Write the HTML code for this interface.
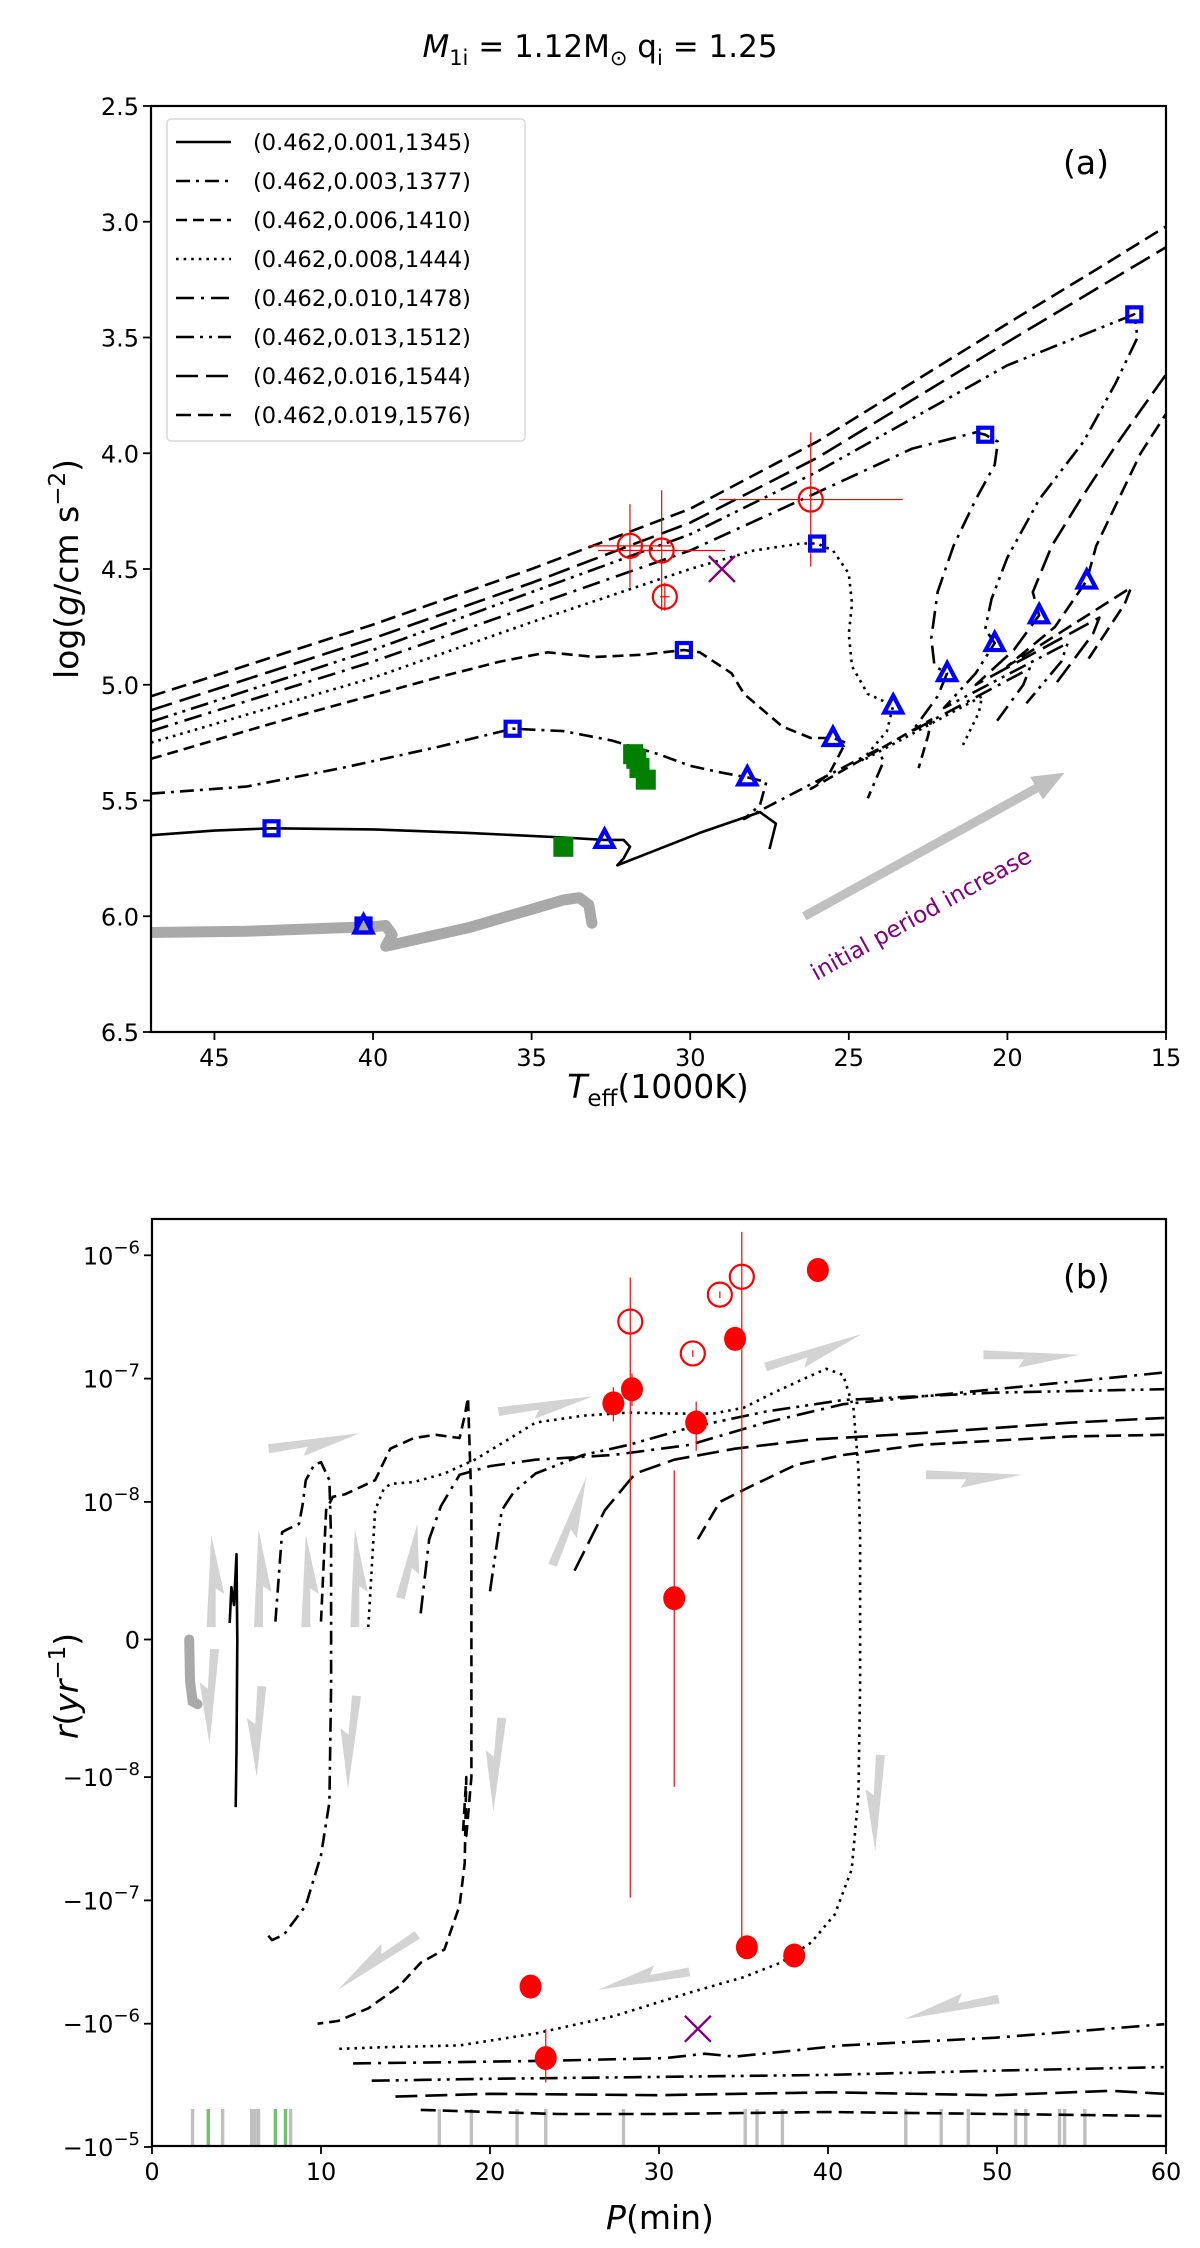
<!DOCTYPE html>
<html><head><meta charset="utf-8"><style>
html,body{margin:0;padding:0;background:#fff;}
svg{display:block;font-family:"DejaVu Sans","Liberation Sans",sans-serif;}
</style></head><body>
<svg id="fig" width="1200" height="2248" viewBox="0 0 1200 2248" xmlns="http://www.w3.org/2000/svg">
<defs>
<clipPath id="clipA"><rect x="151" y="106" width="1015" height="926"/></clipPath>
<clipPath id="clipB"><rect x="152" y="1219" width="1014" height="927"/></clipPath>
</defs>
<text x="600" y="57" text-anchor="middle" font-size="31"><tspan font-style="italic">M</tspan><tspan font-size="21" dy="8">1i</tspan><tspan dy="-8"> = 1.12M</tspan><tspan font-size="21" dy="8">⊙</tspan><tspan dy="-8"> q</tspan><tspan font-size="21" dy="8">i</tspan><tspan dy="-8"> = 1.25</tspan></text>
<g id="panelA"></g>
<g id="panelB"></g>
</svg>
<script>
// ---------- Panel (a) data ----------
const aXTicks=[45,40,35,30,25,20,15];
const aYTicks=[2.5,3.0,3.5,4.0,4.5,5.0,5.5,6.0,6.5];
const legendLabels=["(0.462,0.001,1345)","(0.462,0.003,1377)","(0.462,0.006,1410)","(0.462,0.008,1444)","(0.462,0.010,1478)","(0.462,0.013,1512)","(0.462,0.016,1544)","(0.462,0.019,1576)"];
const aGray=[[47,6.07],[44,6.065],[41,6.05],[40,6.045],[39.6,6.04],[39.4,6.08],[39.6,6.13],[37,6.05],[35,5.97],[34,5.93],[33.5,5.92],[33.2,5.95],[33.1,6.03]];
const aC1=[[47,5.65],[45,5.63],[43.2,5.62],[40,5.625],[37,5.64],[34,5.66],[32.7,5.67],[32.1,5.67],[31.9,5.7],[32.1,5.75],[32.3,5.78],[29.7,5.64],[27.8,5.55],[27.3,5.6],[27.5,5.71]];
const aC2=[[47,5.47],[44,5.44],[41,5.36],[38,5.27],[35.6,5.19],[34,5.2],[32.5,5.24],[31,5.3],[30,5.35],[29,5.38],[28.2,5.40],[27.6,5.42],[27.8,5.52],[28.3,5.58],[24.1,5.28],[23.9,5.33],[24.4,5.49]];
const aC3=[[47,5.32],[42,5.12],[38,4.97],[36,4.9],[34.5,4.86],[33,4.88],[31.5,4.87],[30.2,4.85],[29.7,4.86],[28.7,4.95],[28.3,5.04],[27.1,5.18],[26.2,5.23],[25.5,5.23],[25.1,5.25],[25.6,5.38],[26.2,5.45],[22.4,5.15],[22.5,5.22],[22.8,5.36]];
const aC4=[[47,5.25],[40,4.97],[35,4.73],[30,4.5],[28,4.42],[26.5,4.39],[26,4.39],[25.5,4.42],[25,4.52],[24.9,4.65],[25,4.78],[24.9,4.92],[24.4,5.04],[23.6,5.09],[23.8,5.2],[24.6,5.33],[20.8,5.05],[20.9,5.12],[21.4,5.26]];
const aC5=[[47,5.2],[40,4.9],[35,4.66],[30,4.42],[26,4.17],[23,3.98],[21,3.91],[20.7,3.92],[20.3,3.95],[20.4,4.05],[21,4.2],[21.7,4.4],[22.2,4.6],[22.4,4.8],[22.3,4.92],[21.9,4.95],[22.2,5.05],[23,5.2],[19.3,4.93],[19.5,5.0],[20.4,5.17]];
const aC6=[[47,5.16],[40,4.85],[35,4.6],[30,4.35],[26,4.08],[20,3.62],[16,3.4],[15.9,3.5],[16.6,3.7],[17.6,3.95],[19,4.2],[20,4.45],[20.5,4.63],[20.7,4.76],[20.4,4.82],[21,4.95],[22,5.1],[18.1,4.82],[18.3,4.9],[19.4,5.08]];
const aC7=[[47,5.11],[40,4.8],[35,4.56],[30,4.3],[26,4.02],[20,3.52],[15,3.11],[14.3,3.06],[14.3,3.4],[15,3.66],[16.5,3.95],[17.7,4.2],[18.6,4.4],[19.2,4.6],[19.0,4.7],[19.8,4.85],[21,5.0],[17.1,4.71],[17.3,4.78],[18.5,5.0]];
const aC8=[[47,5.05],[40,4.74],[35,4.5],[30,4.24],[26,3.95],[20,3.44],[17,3.19],[15,3.02],[14.3,2.97],[14.3,3.5],[15,3.83],[15.8,4.0],[16.5,4.2],[17.2,4.4],[17.5,4.55],[18.5,4.75],[20,4.92],[16.1,4.58],[16.3,4.65],[17.5,4.9]];
const sqT=[43.2,35.6,30.2,26.0,20.7,16.0,40.3];
const sqG=[5.62,5.19,4.85,4.39,3.92,3.40,6.04];
const triT=[40.3,32.7,28.2,25.5,23.6,21.9,20.4,19.0,17.5];
const triG=[6.04,5.67,5.40,5.23,5.09,4.95,4.82,4.70,4.55];
const obsT=[31.9,30.9,30.8,26.2];
const obsG=[4.40,4.42,4.62,4.20];
const obsTerr=[1.3,2.0,0.15,2.9];
const obsGerr=[0.18,0.26,0.06,0.29];
const grT=[34.0,31.8,31.7,31.6,31.4];
const grG=[5.70,5.30,5.32,5.36,5.41];
const xMarkA=[29.0,4.50];

// ---------- Panel (b) data ----------
const bXTicks=[0,10,20,30,40,50,60];
const bYTicks=[1e-6,1e-7,1e-8,0,-1e-8,-1e-7,-1e-6,-1e-5];
const bYLabels=["10|−6","10|−7","10|−8","0","−10|−8","−10|−7","−10|−6","−10|−5"];
const bGray=[[2.2,0],[2.25,-3e-9],[2.4,-4.5e-9],[2.7,-4.7e-9]];
const bC1=[[4.6,1.2e-9],[4.7,3.8e-9],[4.85,2.5e-9],[5.0,6.2e-9],[5.05,0],[5.0,-8e-9],[4.95,-1.75e-8]];
const bC2=[[7.3,1.3e-9],[7.7,7.8e-9],[8.0,8e-9],[8.7,8.4e-9],[8.9,9.7e-9],[9.1,1.5e-8],[9.6,2e-8],[10.0,2.1e-8],[10.5,1.5e-8],[10.6,7.3e-9],[10.6,-3.4e-9],[10.5,-1.6e-8],[10.0,-4.3e-8],[9.1,-1.1e-7],[7.8,-1.9e-7],[7.1,-2.1e-7],[6.7,-1.8e-7]];
const bC3=[[10.0,1.3e-9],[10.3,9.4e-9],[10.7,1.1e-8],[11.4,1.15e-8],[12.5,1.35e-8],[13.2,1.5e-8],[14.1,2.7e-8],[15.5,3.3e-8],[16.8,3.5e-8],[18.2,3.3e-8],[18.5,5e-8],[18.7,7e-8],[18.9,1e-8],[18.9,-1e-8],[18.6,-3e-8],[18.4,-2.8e-8],[18.6,-1e-8],[18.5,-5e-8],[18.2,-1.1e-7],[17.3,-2.5e-7],[15.9,-3.2e-7],[14.6,-5e-7],[12.8,-7.5e-7],[11.0,-9.5e-7],[9.8,-1e-6]];
const bC4=[[12.8,9e-10],[13.2,9.4e-9],[13.7,1.26e-8],[14.1,1.4e-8],[15.5,1.45e-8],[17.3,1.7e-8],[19.1,2.2e-8],[20.9,3.1e-8],[22.7,4.4e-8],[25.5,5e-8],[28.2,5.3e-8],[30.9,5.2e-8],[33.2,5.2e-8],[35,5.8e-8],[36.8,7.7e-8],[38.6,1e-7],[39.9,1.2e-7],[40.9,1.07e-7],[41.5,5.8e-8],[41.8,1.9e-8],[41.9,7.3e-9],[41.9,-3.4e-9],[41.8,-1.4e-8],[41.4,-5.6e-8],[40.4,-1.3e-7],[39,-2.2e-7],[37.2,-3.2e-7],[35,-4.2e-7],[31.8,-5.6e-7],[27.3,-8.7e-7],[22.7,-1.2e-6],[18.2,-1.5e-6],[13.7,-1.55e-6],[11,-1.6e-6]];
const bC5pos=[[15.9,1.9e-9],[16.4,7.3e-9],[17.1,9.7e-9],[18.2,1.66e-8],[20,1.95e-8],[22.7,2.2e-8],[27.3,2.4e-8],[31.8,2.9e-8],[36.3,4.4e-8],[40.9,6.2e-8],[49.9,8.2e-8],[59.9,1.12e-7]];
const bC5neg=[[11.9,-2.1e-6],[18.2,-2.05e-6],[23.3,-2e-6],[30.4,-1.9e-6],[32.7,-1.75e-6],[34.5,-1.85e-6],[40.9,-1.5e-6],[49.9,-1.3e-6],[59.9,-1.01e-6]];
const bC6pos=[[20,3.5e-9],[20.7,9.4e-9],[21.4,1.2e-8],[22.7,1.7e-8],[25.5,2.4e-8],[28.2,2.9e-8],[31.8,4e-8],[36.3,5.4e-8],[40.9,6.7e-8],[49.9,7.7e-8],[59.9,8.2e-8]];
const bC6neg=[[13,-2.9e-6],[20,-2.8e-6],[30,-2.7e-6],[40,-2.6e-6],[50,-2.4e-6],[59.9,-2.25e-6]];
const bC7pos=[[25,5e-9],[26.8,9.4e-9],[28.6,1.7e-8],[30.9,2.2e-8],[34.5,2.7e-8],[39,3.2e-8],[45.4,3.6e-8],[54.4,4.4e-8],[59.9,4.8e-8]];
const bC7neg=[[14.4,-3.9e-6],[20,-3.7e-6],[30,-3.8e-6],[40,-3.6e-6],[50,-3.8e-6],[56.7,-3.5e-6],[59.9,-3.7e-6]];
const bC8pos=[[32.3,7.3e-9],[33.6,1e-8],[35.4,1.33e-8],[38.1,2e-8],[40.9,2.4e-8],[45.4,2.9e-8],[54.4,3.4e-8],[59.9,3.5e-8]];
const bC8neg=[[15.9,-5e-6],[20,-5.2e-6],[24,-5.4e-6],[30,-5.4e-6],[40,-5.2e-6],[50,-5.4e-6],[59.9,-5.6e-6]];
const fillP=[39.4,34.5,28.4,27.3,32.2,30.9,35.2,38.0,22.4,23.3];
const fillR=[7.6e-7,2.1e-7,8.2e-8,6.3e-8,4.4e-8,3e-9,-2.4e-7,-2.8e-7,-5e-7,-1.9e-6];
const fillLo=[7.6e-7,2.1e-7,6.0e-8,4.5e-8,2.6e-8,-1.2e-8,-2.4e-7,-2.8e-7,-6e-7,-3e-6];
const fillHi=[7.6e-7,2.1e-7,1.1e-7,8.5e-8,6.5e-8,1.8e-8,-2.4e-7,-2.8e-7,-4.2e-7,-1.1e-6];
const openP=[28.3,32.0,33.6,34.9];
const openR=[2.9e-7,1.6e-7,4.8e-7,6.7e-7];
const openLo=[-9.5e-8,1.5e-7,4.5e-7,-2.4e-7];
const openHi=[6.6e-7,1.7e-7,5.1e-7,1.55e-6];
const xMarkB=[32.3,-1.1e-6];
const rugGray=[2.4,4.18,5.9,6.1,6.3,8.2,17.0,18.9,21.6,23.3,27.9,35.1,35.8,37.3,44.6,46.7,48.3,51.1,51.7,53.7,54.0,55.2];
const rugGreen=[3.33,7.3,7.9];
const arrowsB=[[6.9,2.7e-8,12.3,3.6e-8],[20.5,5.4e-8,26.1,7.2e-8],[36.3,1.24e-7,42.0,2.3e-7],[49.2,1.56e-7,54.9,1.56e-7],[45.8,1.66e-8,51.5,1.66e-8],
[3.5,9e-10,3.5,7.6e-9],[6.3,9e-10,6.3,8e-9],[9.1,9e-10,9.1,7.6e-9],[12.0,9e-10,12.0,8e-9],[14.7,3e-9,15.7,8.4e-9],[23.7,5.4e-9,25.7,1.6e-8],
[3.7,-7e-10,3.4,-7.6e-9],[6.5,-3.4e-9,6.2,-1e-8],[12.1,-4.1e-9,11.6,-1.25e-8],[20.7,-5.7e-9,20.2,-1.9e-8],[43.1,-8.4e-9,42.8,-4e-8],
[15.7,-1.9e-7,11.0,-5.3e-7],[31.8,-3.8e-7,26.4,-5.3e-7],[50.1,-6.3e-7,44.5,-9.2e-7]];

const NS="http://www.w3.org/2000/svg";
function mk(parent,tag,attrs){const e=document.createElementNS(NS,tag);for(const k in attrs)e.setAttribute(k,attrs[k]);parent.appendChild(e);return e;}

// ---------- Panel (a) axes ----------
const A={l:151,r:1166,t:106,b:1032};
function xa(T){return A.l+(47-T)/(47-15)*(A.r-A.l);}
function ya(g){return A.t+(g-2.5)/(6.5-2.5)*(A.b-A.t);}
const pa=document.getElementById('panelA');
const dashes=["", "14,6,3,6", "11,6", "2.6,5", "18,7,3,7", "18,6,3,6,3,6", "22,8", "15,7"];
const LW=2.6;
function pathD(pts,fx,fy){return pts.map((p,i)=>(i?'L':'M')+fx(p[0]).toFixed(1)+','+fy(p[1]).toFixed(1)).join(' ');}

const ca=mk(pa,'g',{'clip-path':'url(#clipA)'});
let e;
e=mk(ca,'path',{d:pathD(aGray,xa,ya),fill:'none',stroke:'#a9a9a9','stroke-width':11,'stroke-linecap':'round','stroke-linejoin':'round'});


const aCurves=[aC1,aC2,aC3,aC4,aC5,aC6,aC7,aC8];
aCurves.forEach((c,i)=>{
  const p=mk(ca,'path',{d:pathD(c,xa,ya),fill:'none',stroke:'#000','stroke-width':LW,'stroke-dasharray':dashes[i]||'none','stroke-linejoin':'round'});
  
  
});
// gray arrow
const ga1=[xa(26.4),ya(6.0)],ga2=[xa(18.2),ya(5.38)];
(function(){const dx=ga2[0]-ga1[0],dy=ga2[1]-ga1[1],L=Math.hypot(dx,dy),ux=dx/L,uy=dy/L,nx=-uy,ny=ux,hw=4.5,hh=13,hl=32;
const bx=ga2[0]-ux*hl,by=ga2[1]-uy*hl;
const pts=[[ga1[0]+nx*hw,ga1[1]+ny*hw],[bx+nx*hw,by+ny*hw],[bx+nx*hh,by+ny*hh],ga2,[bx-nx*hh,by-ny*hh],[bx-nx*hw,by-ny*hw],[ga1[0]-nx*hw,ga1[1]-ny*hw]];
const p=mk(pa,'polygon',{points:pts.map(q=>q.join(',')).join(' '),fill:'#c0c0c0'});

})();
e=mk(pa,'text',{x:xa(22.6),y:ya(6.02),'font-size':23,fill:'#800080','text-anchor':'middle',transform:'rotate(-29 '+xa(22.6)+' '+ya(6.02)+')'});
e.textContent='initial period increase';


// observed red circles
obsT.forEach((t,i)=>{
  const g=mk(pa,'g',{});
  
  
  mk(g,'line',{x1:xa(t-obsTerr[i]),x2:xa(t+obsTerr[i]),y1:ya(obsG[i]),y2:ya(obsG[i]),stroke:'#ff0000','stroke-width':1.2});
  mk(g,'line',{x1:xa(t),x2:xa(t),y1:ya(obsG[i]-obsGerr[i]),y2:ya(obsG[i]+obsGerr[i]),stroke:'#ff0000','stroke-width':1.2});
  mk(g,'circle',{cx:xa(t),cy:ya(obsG[i]),r:12,fill:'none',stroke:'#ff0000','stroke-width':2.2});
});
grT.forEach((t,i)=>{
  const r=mk(pa,'rect',{x:xa(t)-10,y:ya(grG[i])-10,width:20,height:20,fill:'#008000'});
  
  
});
sqT.forEach((t,i)=>{
  const r=mk(pa,'rect',{x:xa(t)-7,y:ya(sqG[i])-7,width:14,height:14,fill:'none',stroke:'#0000ff','stroke-width':4.2});
  
  
});
triT.forEach((t,i)=>{
  const x=xa(t),y=ya(triG[i]);
  const p=mk(pa,'polygon',{points:`${x},${y-10} ${x-9},${y+7} ${x+9},${y+7}`,fill:'none',stroke:'#0000ff','stroke-width':4.2,'stroke-linejoin':'miter'});
  
  
});
(function(){const x=xa(xMarkA[0]),y=ya(xMarkA[1]);const g=mk(pa,'path',{d:`M${x-13},${y-13}L${x+13},${y+13}M${x-13},${y+13}L${x+13},${y-13}`,stroke:'#800080','stroke-width':2.4});

})();
// frame & ticks
e=mk(pa,'rect',{x:A.l,y:A.t,width:A.r-A.l,height:A.b-A.t,fill:'none',stroke:'#000','stroke-width':2.2});


aXTicks.forEach(t=>{
  mk(pa,'line',{x1:xa(t),x2:xa(t),y1:A.b,y2:A.b+8,stroke:'#000','stroke-width':1.8});
  const tx=mk(pa,'text',{x:xa(t),y:A.b+34,'font-size':24,'text-anchor':'middle'});tx.textContent=t;
  
  
});
aYTicks.forEach(t=>{
  mk(pa,'line',{x1:A.l-8,x2:A.l,y1:ya(t),y2:ya(t),stroke:'#000','stroke-width':1.8});
  const tx=mk(pa,'text',{x:A.l-12,y:ya(t)+9,'font-size':24,'text-anchor':'end'});tx.textContent=t.toFixed(1);
  
  
});
e=mk(pa,'text',{x:658,y:1098,'font-size':33,'text-anchor':'middle'});
e.innerHTML='<tspan font-style="italic">T</tspan><tspan font-size="23" dy="8">eff</tspan><tspan dy="-8">(1000K)</tspan>';


e=mk(pa,'text',{x:0,y:0,'font-size':33,'text-anchor':'middle',transform:'translate(78,569) rotate(-90)'});
e.innerHTML='log(<tspan font-style="italic">g</tspan>/cm s<tspan font-size="23" dy="-13">−2</tspan><tspan dy="13">)</tspan>';


e=mk(pa,'text',{x:1063,y:174,'font-size':33});e.textContent='(a)';


// legend
const lg=mk(pa,'g',{});


mk(lg,'rect',{x:167,y:119,width:358,height:322,rx:4,fill:'#fff','fill-opacity':0.8,stroke:'#d9d9d9','stroke-width':1.5});
legendLabels.forEach((s,i)=>{
  const y=142+i*39;
  const g=mk(lg,'g',{});
  
  
  mk(g,'line',{x1:176,x2:231,y1:y,y2:y,stroke:'#000','stroke-width':LW,'stroke-dasharray':dashes[i]||'none'});
  const t=mk(g,'text',{x:253,y:y+8,'font-size':22.5});t.textContent=s;
});

// ---------- Panel (b) ----------
const B={l:152,r:1166,t:1219,b:2146,z:1639.5,L:137.6,D:123.3};
function xb(P){return B.l+P/60*(B.r-B.l);}
function yb(r){const a=Math.abs(r),lt=1e-8;let u;if(a<=lt)u=a/lt*B.L;else u=B.L+B.D*Math.log10(a/lt);return B.z-(r<0?-u:u);}
const pb=document.getElementById('panelB');
const cb=mk(pb,'g',{'clip-path':'url(#clipB)'});
// rugs
rugGray.forEach(p=>{const l=mk(cb,'line',{x1:xb(p),x2:xb(p),y1:2109,y2:2146,stroke:'#bfbfbf','stroke-width':3.4});

});
rugGreen.forEach(p=>{const l=mk(cb,'line',{x1:xb(p),x2:xb(p),y1:2109,y2:2146,stroke:'#70c070','stroke-width':3.4});

});
// arrows
arrowsB.forEach(a=>{
  const x1=xb(a[0]),y1=yb(a[1]),x2=xb(a[2]),y2=yb(a[3]);
  const dx=x2-x1,dy=y2-y1,L=Math.hypot(dx,dy),ux=dx/L,uy=dy/L,nx=uy,ny=-ux;
  const loc=[[0,4.5],[L,0],[0.36*L,-13],[0.42*L,-4.5],[0,-4.5]];
  const pts=loc.map(q=>[(x1+ux*q[0]+nx*q[1]).toFixed(1),(y1+uy*q[0]+ny*q[1]).toFixed(1)].join(','));
  const p=mk(cb,'polygon',{points:pts.join(' '),fill:'#d3d3d3'});
  
  
});
e=mk(cb,'path',{d:pathD(bGray,xb,yb),fill:'none',stroke:'#a9a9a9','stroke-width':10,'stroke-linecap':'round'});


const bCurves=[[bC1],[bC2],[bC3],[bC4],[bC5pos,bC5neg],[bC6pos,bC6neg],[bC7pos,bC7neg],[bC8pos,bC8neg]];
bCurves.forEach((set,i)=>set.forEach(c=>{
  const p=mk(cb,'path',{d:pathD(c,xb,yb),fill:'none',stroke:'#000','stroke-width':LW,'stroke-dasharray':dashes[i]||'none','stroke-linejoin':'round'});
  
  
}));
fillP.forEach((P,i)=>{
  const g=mk(cb,'g',{});
  
  
  mk(g,'line',{x1:xb(P),x2:xb(P),y1:yb(fillLo[i]),y2:yb(fillHi[i]),stroke:'#ff0000','stroke-width':1.2});
  mk(g,'ellipse',{cx:xb(P),cy:yb(fillR[i]),rx:11,ry:12,fill:'#ff0000'});
});
openP.forEach((P,i)=>{
  const g=mk(cb,'g',{});
  
  
  mk(g,'line',{x1:xb(P),x2:xb(P),y1:yb(openLo[i]),y2:yb(openHi[i]),stroke:'#ff0000','stroke-width':1.2});
  mk(g,'circle',{cx:xb(P),cy:yb(openR[i]),r:12,fill:'none',stroke:'#ff0000','stroke-width':2.2});
});
(function(){const x=xb(xMarkB[0]),y=yb(xMarkB[1]);const g=mk(cb,'path',{d:`M${x-13},${y-13}L${x+13},${y+13}M${x-13},${y+13}L${x+13},${y-13}`,stroke:'#800080','stroke-width':2.4});

})();
e=mk(pb,'rect',{x:B.l,y:B.t,width:B.r-B.l,height:B.b-B.t,fill:'none',stroke:'#000','stroke-width':2.2});


bXTicks.forEach(t=>{
  mk(pb,'line',{x1:xb(t),x2:xb(t),y1:B.b,y2:B.b+8,stroke:'#000','stroke-width':1.8});
  const tx=mk(pb,'text',{x:xb(t),y:B.b+34,'font-size':24,'text-anchor':'middle'});tx.textContent=t;
  
  
});
bYTicks.forEach((t,i)=>{
  const y=yb(t);
  mk(pb,'line',{x1:B.l-8,x2:B.l,y1:y,y2:y,stroke:'#000','stroke-width':1.8});
  const parts=bYLabels[i].split('|');
  const tx=mk(pb,'text',{x:B.l-12,y:y+9,'font-size':24,'text-anchor':'end'});
  if(parts.length>1){tx.innerHTML=parts[0]+'<tspan font-size="18" dy="-11">'+parts[1]+'</tspan>';}else tx.textContent=parts[0];
  
  
});
e=mk(pb,'text',{x:660,y:2229,'font-size':33,'text-anchor':'middle'});
e.innerHTML='<tspan font-style="italic">P</tspan>(min)';


e=mk(pb,'text',{x:0,y:0,'font-size':33,'text-anchor':'middle',transform:'translate(78,1686) rotate(-90)'});
e.innerHTML='<tspan font-style="italic">r</tspan>(<tspan font-style="italic">yr</tspan><tspan font-size="23" dy="-13">−1</tspan><tspan dy="13">)</tspan>';


e=mk(pb,'text',{x:1063,y:1288,'font-size':33});e.textContent='(b)';


</script>
</body></html>
